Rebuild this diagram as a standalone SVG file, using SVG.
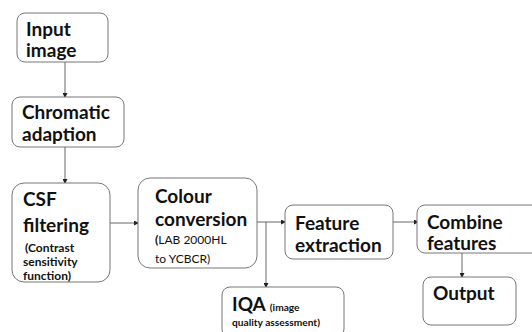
<svg xmlns="http://www.w3.org/2000/svg" width="532" height="332" viewBox="0 0 532 332">
<defs>
<marker id="ah" markerWidth="5" markerHeight="5" refX="4" refY="2.5" orient="auto" markerUnits="userSpaceOnUse">
<path d="M0,0 L5,2.5 L0,5 Z" fill="#222"/>
</marker>
<style>
.box{fill:#fff;stroke:#777;stroke-width:1}
.t{font-family:Lato,"Open Sans",sans-serif;font-weight:bold;font-size:19px;fill:#111}
.s{font-family:Lato,"Open Sans",sans-serif;font-size:12px;fill:#111}
.sb{font-family:Lato,"Open Sans",sans-serif;font-weight:bold;font-size:12px;fill:#111}
.xs{font-family:Lato,"Open Sans",sans-serif;font-weight:bold;font-size:10.2px;fill:#111}
.c{fill:none;stroke:#666;stroke-width:1}
</style>
</defs>
<rect width="532" height="332" fill="#fff"/>
<g id="connectors">
<line class="c" x1="65" y1="62" x2="65" y2="97" marker-end="url(#ah)"/>
<line class="c" x1="65" y1="147" x2="65" y2="183" marker-end="url(#ah)"/>
<line class="c" x1="110" y1="223" x2="138" y2="223" marker-end="url(#ah)"/>
<line class="c" x1="257" y1="222" x2="285" y2="222" marker-end="url(#ah)"/>
<line class="c" x1="266" y1="222" x2="266" y2="287" marker-end="url(#ah)"/>
<line class="c" x1="393" y1="222" x2="418" y2="222" marker-end="url(#ah)"/>
<line class="c" x1="462" y1="253" x2="462" y2="277" marker-end="url(#ah)"/>
</g>
<g id="input">
<rect class="box" x="17" y="13" width="91" height="49" rx="8"/>
<text class="t" x="26" y="36">Input</text>
<text class="t" x="26" y="57">image</text>
</g>
<g id="chromatic">
<rect class="box" x="12" y="97" width="112" height="50" rx="8"/>
<text class="t" x="22" y="119">Chromatic</text>
<text class="t" x="22" y="141">adaption</text>
</g>
<g id="csf">
<rect class="box" x="12" y="183" width="98" height="99" rx="12"/>
<text class="t" x="23" y="206">CSF</text>
<text class="t" x="23" y="232">filtering</text>
<text class="sb" x="25" y="252">(Contrast</text>
<text class="sb" x="23" y="266">sensitivity</text>
<text class="sb" x="23" y="280">function)</text>
</g>
<g id="colour">
<rect class="box" x="138" y="178" width="119" height="90" rx="12"/>
<text class="t" x="155" y="203" font-size="19.5">Colour</text>
<text class="t" x="155" y="226" font-size="19.5">conversion</text>
<text class="s" x="155" y="244"><tspan font-weight="bold">(</tspan>LAB 2000HL</text>
<text class="s" x="155" y="263">to YCBCR)</text>
</g>
<g id="feature">
<rect class="box" x="285" y="205" width="108" height="54" rx="8"/>
<text class="t" x="295" y="230" font-size="19.5">Feature</text>
<text class="t" x="295" y="252" font-size="19.5">extraction</text>
</g>
<g id="iqa">
<rect class="box" x="222" y="287" width="122" height="50" rx="8"/>
<text class="t" x="232" y="311" font-size="17">IQA <tspan class="xs">(image</tspan></text>
<text class="xs" x="232" y="326">quality assessment)</text>
</g>
<g id="combine">
<rect class="box" x="417" y="205" width="125" height="48" rx="8"/>
<text class="t" x="427" y="229" font-size="20">Combine</text>
<text class="t" x="427" y="250" font-size="20">features</text>
</g>
<g id="output">
<rect class="box" x="423" y="277" width="93" height="48" rx="8"/>
<text class="t" x="433" y="300" font-size="16.5">Output</text>
</g>
</svg>
